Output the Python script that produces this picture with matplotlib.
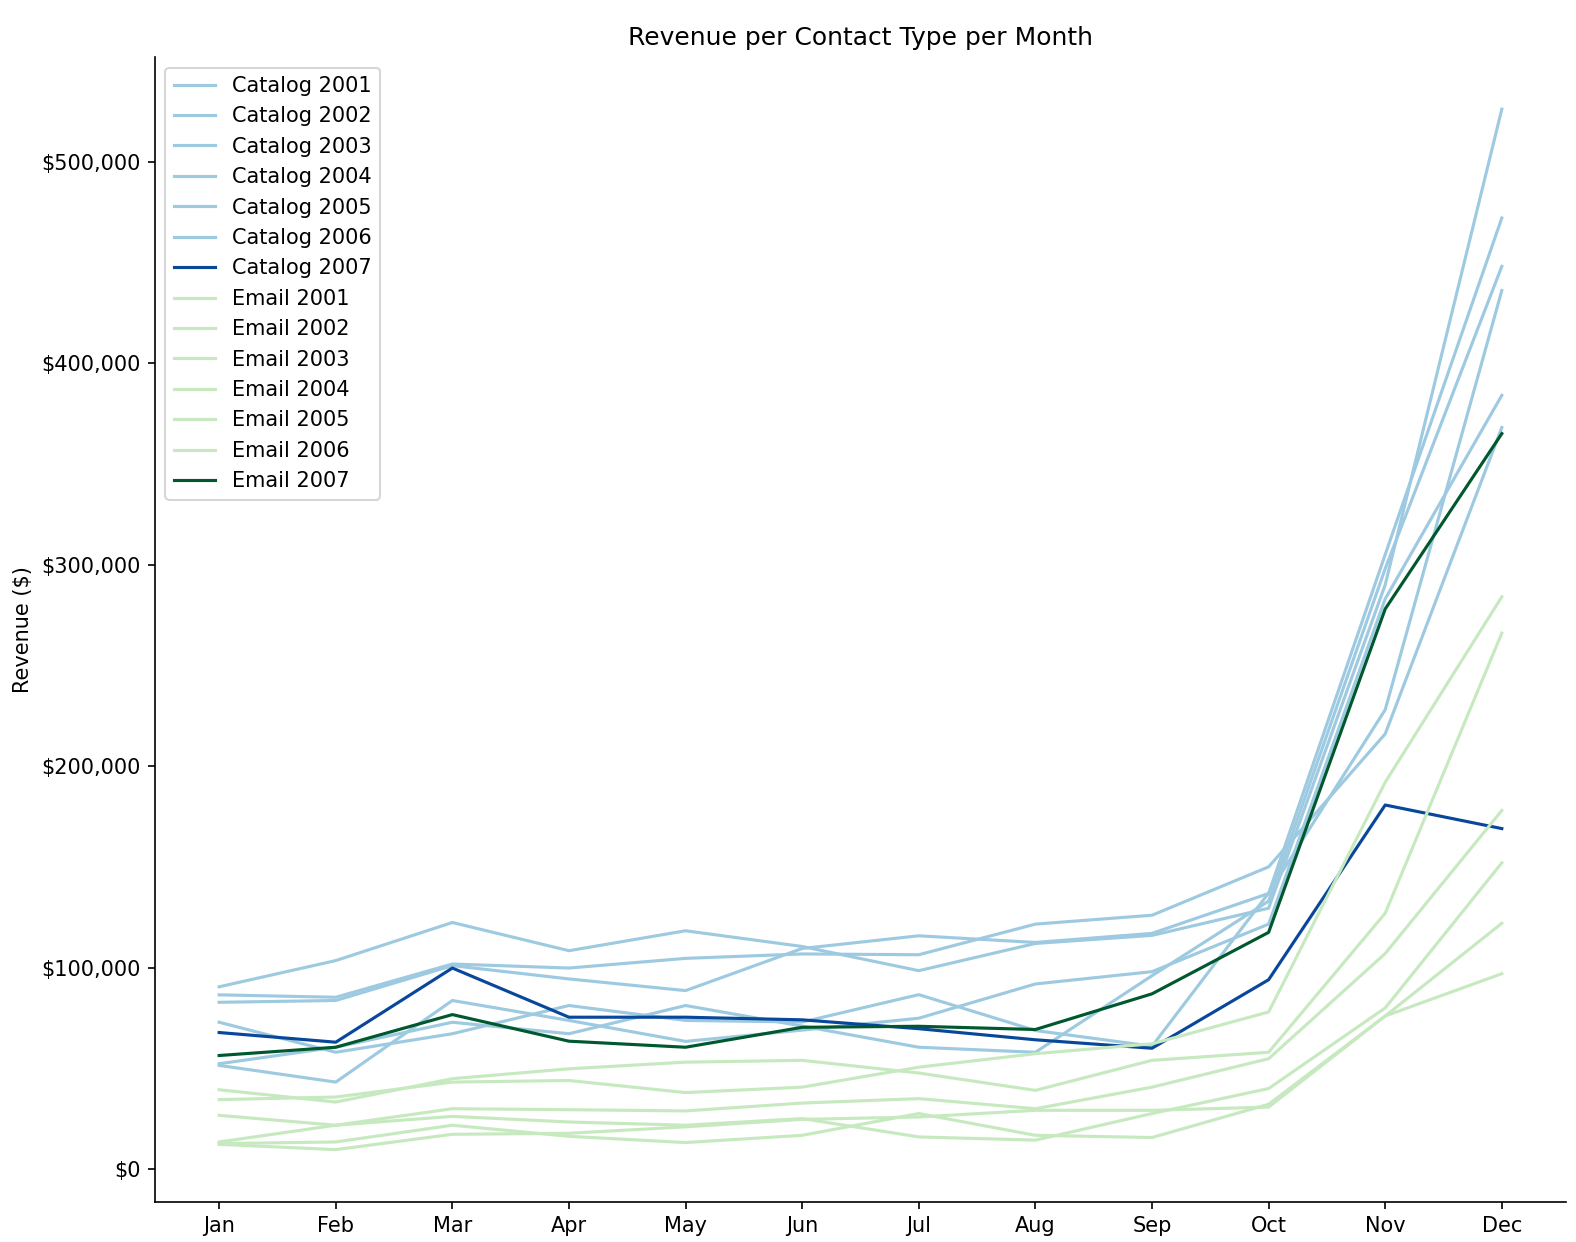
import numpy as np
import matplotlib.pyplot as plt
from matplotlib.ticker import FuncFormatter

months = ['Jan', 'Feb', 'Mar', 'Apr', 'May', 'Jun', 'Jul', 'Aug', 'Sep', 'Oct', 'Nov', 'Dec']

# revenue in thousands of dollars
catalog_2001 = [90.5, 103.5, 122.4, 108.4, 118.3, 110.5, 98.5, 112.0, 116.0, 129.5, 290.0, 526.0]
catalog_2002 = [86.5, 85.3, 101.8, 99.8, 104.6, 106.8, 106.4, 121.6, 126.0, 150.0, 216.0, 368.0]
catalog_2003 = [82.8, 83.7, 101.0, 94.4, 88.6, 109.5, 115.8, 112.5, 117.0, 136.8, 305.0, 472.0]
catalog_2004 = [52.3, 60.5, 72.9, 67.2, 81.2, 71.0, 60.5, 58.0, 96.0, 133.0, 298.0, 448.0]
catalog_2005 = [51.5, 43.2, 83.7, 73.8, 63.4, 69.0, 74.9, 91.9, 98.0, 121.6, 283.0, 384.0]
catalog_2006 = [72.9, 58.0, 67.2, 81.2, 73.8, 73.0, 86.6, 68.8, 61.0, 137.0, 228.0, 436.0]
catalog_2007 = [67.8, 63.0, 99.8, 75.4, 75.4, 74.1, 69.7, 64.2, 60.0, 94.0, 180.7, 169.0]

email_2001 = [34.5, 35.8, 43.2, 44.0, 38.0, 40.7, 50.6, 57.3, 62.2, 78.0, 192.0, 284.0]
email_2002 = [39.4, 33.3, 44.9, 49.8, 53.1, 54.0, 47.7, 39.1, 54.0, 58.0, 127.0, 266.0]
email_2003 = [13.5, 21.8, 30.0, 29.5, 28.9, 32.8, 35.0, 30.0, 40.7, 54.8, 107.0, 178.0]
email_2004 = [26.7, 21.8, 26.2, 23.4, 21.8, 25.1, 16.0, 14.4, 27.6, 40.0, 80.0, 152.0]
email_2005 = [12.7, 13.5, 21.8, 16.3, 13.2, 16.8, 27.6, 16.8, 15.7, 32.2, 76.0, 122.0]
email_2006 = [12.3, 9.7, 17.3, 17.8, 21.0, 24.7, 25.9, 29.2, 29.2, 30.8, 76.0, 97.0]
email_2007 = [56.4, 60.5, 76.7, 63.5, 60.5, 70.4, 70.9, 69.3, 87.0, 117.5, 278.0, 365.0]

catalog = [catalog_2001, catalog_2002, catalog_2003, catalog_2004,
           catalog_2005, catalog_2006, catalog_2007]
email = [email_2001, email_2002, email_2003, email_2004,
         email_2005, email_2006, email_2007]
years = [2001, 2002, 2003, 2004, 2005, 2006, 2007]

fig, ax = plt.subplots(figsize=(10.5133, 8.28), dpi=150)
fig.subplots_adjust(left=0.0983, right=0.993, bottom=0.0325, top=0.954)

x = np.arange(len(months))
for yr, vals in zip(years, catalog):
    color = '#08479a' if yr == 2007 else '#9ecae1'
    ax.plot(x, np.array(vals) * 1000, color=color, label=f'Catalog {yr}')
for yr, vals in zip(years, email):
    color = '#00582e' if yr == 2007 else '#c7e9c0'
    ax.plot(x, np.array(vals) * 1000, color=color, label=f'Email {yr}')

ax.set_xticks(x)
ax.set_xticklabels(months)
ax.set_yticks([0, 100000, 200000, 300000, 400000, 500000])
ax.yaxis.set_major_formatter(FuncFormatter(lambda v, p: f'${v:,.0f}'))
ax.set_ylabel('Revenue ($)')
ax.set_title('Revenue per Contact Type per Month')
ax.spines['top'].set_visible(False)
ax.spines['right'].set_visible(False)
ax.legend(loc='upper left')

fig.savefig('out.png')
